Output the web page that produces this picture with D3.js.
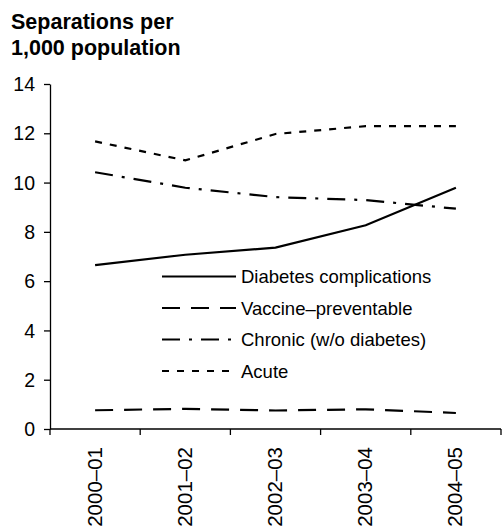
<!DOCTYPE html>
<html>
<head>
<meta charset="utf-8">
<script src="https://cdn.jsdelivr.net/npm/d3@7"></script>
<style>
  html, body { margin: 0; padding: 0; background: #fff; }
  svg { display: block; font-family: "Liberation Sans", Arial, sans-serif; }
</style>
</head>
<body>
<svg id="chart" width="502" height="528"></svg>
<script>
const categories = ["2000\u201301", "2001\u201302", "2002\u201303", "2003\u201304", "2004\u201305"];
const diabetes = [6.65, 7.07, 7.36, 8.27, 9.79];
const vaccine = [0.76, 0.82, 0.75, 0.80, 0.65];
const chronic = [10.42, 9.79, 9.41, 9.29, 8.94];
const acute = [11.67, 10.90, 11.97, 12.29, 12.29];
const yTicks = [0, 2, 4, 6, 8, 10, 12, 14];
const seriesNames = ["Diabetes complications", "Vaccine\u2013preventable", "Chronic (w/o diabetes)", "Acute"];

const series = [
  { name: seriesNames[0], values: diabetes, dash: null },
  { name: seriesNames[1], values: vaccine, dash: "18,11" },
  { name: seriesNames[2], values: chronic, dash: "18,9,3,9" },
  { name: seriesNames[3], values: acute, dash: "7,8" }
];

const svg = d3.select("#chart");
const pLeft = 50, pRight = 501, pTop = 84, pBottom = 429;

const x = d3.scaleBand().domain(categories).range([pLeft, pRight]).padding(0);
const y = d3.scaleLinear().domain([0, 14]).range([pBottom, pTop]);

// Title
svg.append("text").attr("x", 11).attr("y", 29).attr("font-size", 21.5).attr("font-weight", "bold").text("Separations per");
svg.append("text").attr("x", 11).attr("y", 55).attr("font-size", 21.5).attr("font-weight", "bold").text("1,000 population");

// Y axis
const yAxis = svg.append("g").attr("transform", `translate(${pLeft},0)`)
  .call(d3.axisLeft(y).tickValues(yTicks).tickSize(6).tickSizeOuter(0).tickPadding(9).tickFormat(d3.format("d")));
yAxis.select(".domain").attr("stroke", "#000").attr("stroke-width", 1.3);
yAxis.selectAll(".tick line").attr("stroke", "#000").attr("stroke-width", 1.3);
yAxis.selectAll(".tick text").attr("font-size", 19.5).attr("fill", "#000")
  .attr("font-family", "Liberation Sans, Arial, sans-serif").attr("dy", "0.34em");

// X axis
const edges = categories.map(c => x(c)).concat([pRight]);
const xg = svg.append("g");
xg.append("line").attr("x1", pLeft).attr("x2", pRight).attr("y1", pBottom).attr("y2", pBottom)
  .attr("stroke", "#000").attr("stroke-width", 1.3);
xg.selectAll("line.tk").data(edges).enter().append("line").attr("class", "tk")
  .attr("x1", d => d).attr("x2", d => d).attr("y1", pBottom).attr("y2", pBottom + 6)
  .attr("stroke", "#000").attr("stroke-width", 1.3);
xg.selectAll("text").data(categories).enter().append("text")
  .attr("transform", d => `translate(${x(d) + x.bandwidth() / 2 + 6.5},447) rotate(-90)`)
  .attr("text-anchor", "end").attr("font-size", 20.5).text(d => d);

// Lines
const line = d3.line()
  .x((d, i) => x(categories[i]) + x.bandwidth() / 2)
  .y(d => y(d))
  .curve(d3.curveLinear);

series.forEach(s => {
  svg.append("path").datum(s.values).attr("d", line)
    .attr("fill", "none").attr("stroke", "#000").attr("stroke-width", 2.2)
    .attr("stroke-dasharray", s.dash);
});

// Legend
const legY = [276.5, 308, 339.5, 371];
series.forEach((s, i) => {
  svg.append("line").attr("x1", 162).attr("x2", 236).attr("y1", legY[i]).attr("y2", legY[i])
    .attr("stroke", "#000").attr("stroke-width", 2.2).attr("stroke-dasharray", s.dash);
  svg.append("text").attr("x", 241).attr("y", legY[i] + 6.5).attr("font-size", 18.5).text(s.name);
});
</script>
</body>
</html>
